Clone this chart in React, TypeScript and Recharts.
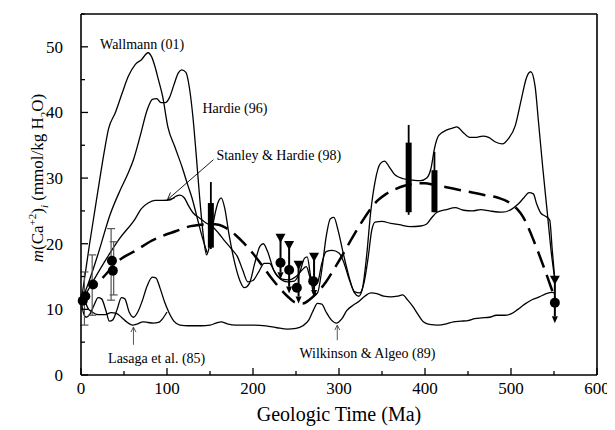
import React from 'react';
import {
  ComposedChart,
  Line,
  XAxis,
  YAxis,
  Scatter,
  ReferenceLine,
  ReferenceDot,
} from 'recharts';

// Seawater Ca concentration through the Phanerozoic: model curves + fluid inclusion data

const SERIF = 'Liberation Serif, Times New Roman, serif';

const xTicks = [0, 50, 100, 150, 200, 250, 300, 350, 400, 450, 500, 550, 600];
const yTicks = [0, 5, 10, 15, 20, 25, 30, 35, 40, 45, 50, 55];

// [age Ma, Ca mmol/kg]
const wallmann: [number, number][] = [
  [0, 11], [5, 15.5], [10, 20], [16, 25], [22, 30], [27, 34], [32, 37.5], [40, 40],
  [48, 43], [55, 45.5], [63, 47.3], [70, 48], [78, 49.1], [82, 48.5], [86, 47],
  [90, 45], [95, 42.4], [101, 37.8], [109, 34.8], [118, 31.5], [124, 29], [129, 27],
  [135, 24], [141, 21], [147, 18.5],
];

const hardie: [number, number][] = [
  [0, 11], [10, 14.5], [20, 18.5], [34, 24.5], [45, 28], [55, 30.8], [61, 32.8],
  [69, 36.5], [77, 40.4], [83, 42], [88, 42.1], [93, 41.5], [98, 41.5], [103, 42.3],
  [108, 44.2], [113, 46], [117, 46.5], [122, 46.1], [126, 43.8], [130, 39.5],
  [134, 33.5], [138, 27], [142, 21.5], [146, 18.3], [150, 20], [155, 24], [160, 26.5],
  [163, 27], [167, 25.5], [172, 21.5], [178, 17.5], [185, 14.3], [190, 13.3], [196, 14],
  [202, 17], [208, 19.6], [212, 20], [217, 18.8], [224, 16], [232, 14.6], [240, 14.2],
  [248, 14.3], [254, 15.5], [260, 17.8], [263, 18], [267, 15], [271, 12.2], [275, 12.5],
  [280, 16], [285, 21], [290, 23.8], [294, 24], [299, 22], [305, 18.5], [312, 14.8],
  [318, 12.5], [323, 12], [327, 13], [332, 18], [337, 25], [342, 29.5], [348, 32.2],
  [353, 32.6], [358, 31.8], [365, 30.5], [375, 29.9], [385, 29.7], [395, 29.6],
  [402, 30], [407, 31.5], [411, 34.5], [416, 36.5], [425, 37.3], [432, 37.6],
  [437, 37.8], [444, 37], [452, 36.2], [460, 36.2], [467, 36.4], [474, 36.2],
  [482, 35.5], [490, 35.2], [497, 36], [505, 38], [512, 42], [518, 45.3], [523, 46.2],
  [528, 44], [532, 38.5], [537, 31.5], [542, 25], [547, 18.5], [551, 14.5],
];

const stanleyHardie: [number, number][] = [
  [0, 11], [15, 14.5], [30, 17.8], [45, 20.8], [63, 23.8], [70, 25.3], [78, 26.2],
  [86, 26.6], [95, 26.6], [104, 26.7], [110, 27.2], [115, 27.4], [120, 27],
  [125, 25.8], [131, 24.6], [137, 24], [145, 23.2], [153, 22.6], [160, 21.6],
  [166, 20.6], [175, 19.2], [182, 18], [188, 16], [194, 14.2], [200, 14.4],
  [207, 15.8], [213, 17], [219, 17], [226, 15.5], [234, 14.6], [242, 14.5], [250, 15],
  [257, 16], [262, 16.5], [266, 15], [270, 13.5], [275, 14], [280, 17], [285, 18.8],
  [292, 19], [300, 18.6], [306, 17], [312, 14.5], [318, 12.7], [324, 12.5], [329, 14],
  [334, 18], [338, 22], [342, 23.3], [350, 23.4], [360, 23.1], [370, 22.9],
  [383, 22.6], [395, 22.7], [402, 23], [408, 24], [414, 24.8], [425, 25.2],
  [435, 25.5], [445, 25.1], [455, 25], [465, 25.2], [475, 25], [490, 24.8],
  [500, 25.2], [508, 26], [515, 27], [521, 27.8], [526, 27.6], [530, 26],
  [535, 24.6], [540, 24.2], [545, 23.6], [548, 19], [551, 14.5],
];

const lasaga: [number, number][] = [
  [0, 12], [4, 11.4], [8, 10.2], [13, 9.6], [20, 9.2], [28, 9.2], [35, 9.5], [41, 9.4],
  [47, 8.8], [54, 8], [60, 7.6], [66, 7.8], [72, 8.1], [78, 8], [84, 7.9], [90, 8],
  [95, 8.6], [100, 9.6],
];

const wilkinsonAlgeo: [number, number][] = [
  [0, 11.4], [3, 9.4], [6, 8.8], [10, 9.2], [15, 10.6], [20, 11.8], [24, 11.6],
  [29, 9.8], [33, 8.2], [37, 8.4], [42, 10], [47, 11.8], [51, 11.6], [56, 9.6],
  [61, 8.8], [66, 9.6], [71, 11.2], [77, 13.6], [83, 14.9], [87, 14.8], [92, 13.2],
  [97, 11.2], [102, 9.6], [108, 8.2], [115, 7.6], [125, 7.5], [140, 7.5], [150, 7.6],
  [157, 7.9], [163, 8.1], [170, 7.8], [180, 7.6], [200, 7.6], [215, 7.5], [228, 7.2],
  [240, 7], [250, 7.1], [258, 7.5], [265, 8.4], [270, 9.8], [275, 10.9], [280, 10.8],
  [285, 9.6], [291, 8.4], [297, 7.9], [303, 8.5], [309, 9.8], [316, 10.6], [323, 11.2],
  [330, 12], [337, 12.5], [344, 12.4], [352, 12], [360, 11.9], [368, 12], [374, 12.2],
  [380, 11.4], [386, 10.4], [392, 9.2], [398, 8.1], [405, 7.7], [415, 7.6], [425, 7.8],
  [433, 8.1], [442, 8.2], [450, 8.3], [458, 8.6], [466, 8.7], [475, 8.8], [483, 9.1],
  [492, 9.1], [500, 9.3], [508, 10], [516, 10.8], [525, 11.5], [533, 11.9],
  [541, 12.4], [548, 12.6], [551, 12.4],
];

// this study (dashed)
const model: [number, number][] = [
  [25, 14.8], [30, 15.5], [40, 17], [50, 18], [63, 18.9], [80, 20.3], [95, 21.2],
  [110, 21.9], [125, 22.6], [140, 22.9], [150, 23], [160, 22.9], [170, 22.3],
  [180, 21.3], [190, 20], [200, 18.5], [210, 16.8], [220, 15], [230, 13.4], [240, 12],
  [250, 11], [258, 10.9], [266, 11.5], [275, 12.6], [285, 14.2], [295, 16.3],
  [305, 18.5], [315, 20.8], [325, 23], [335, 25], [345, 26.6], [355, 27.6],
  [365, 28.3], [378, 28.9], [390, 29.2], [400, 29.2], [410, 29], [425, 28.6],
  [440, 28.2], [455, 27.8], [470, 27.4], [485, 27], [499, 26.2], [507, 25.3],
  [514, 24.1], [520, 22.5], [526, 20.6], [532, 18.6], [538, 16.5], [544, 14.3],
  [548, 12.8], [551, 11.5],
];

// fluid inclusion data
const dots: [number, number][] = [
  [2, 11.3], [5, 12], [14, 13.8], [36, 17.4], [37, 15.9], [232, 17.1], [242, 16],
  [251, 13.3], [270, 14.3], [551, 11],
];
// [age, triangle (max), arrow tip]
const maxima: [number, number, number][] = [
  [232, 20.9, 14.6], [242, 19.8, 12.4], [253, 16.8, 10.9], [271, 18, 11.9], [551, 14.5, 7.9],
];
// [age, low, high]
const errorBars: [number, number, number][] = [
  [4, 7.6, 15.7], [13, 9.1, 18.3], [35, 11.4, 22.3], [38, 12.2, 20.3],
];
// [age, thin low, thin high, thick low, thick high]
const haliteBars: [number, number, number, number, number][] = [
  [151, 19.2, 29.4, 19.4, 26.2], [381, 24.4, 38.1, 24.8, 35.4], [411, 24.8, 34, 24.8, 31.2],
];

const toPts = (arr: [number, number][]) => arr.map(([x, y]) => ({ x, y }));

function arrowShape(head: 'open' | 'filled', len: number, half: number, color: string, width: number) {
  return (p: any) => {
    const { x1, y1, x2, y2 } = p;
    const a = Math.atan2(y2 - y1, x2 - x1);
    const bx = x2 - len * Math.cos(a);
    const by = y2 - len * Math.sin(a);
    const nx = -Math.sin(a) * half;
    const ny = Math.cos(a) * half;
    return (
      <g>
        <line x1={x1} y1={y1} x2={head === 'filled' ? bx : x2} y2={head === 'filled' ? by : y2} stroke={color} strokeWidth={width} />
        {head === 'filled' ? (
          <polygon points={`${x2},${y2} ${bx + nx},${by + ny} ${bx - nx},${by - ny}`} fill={color} />
        ) : (
          <polyline points={`${bx + nx},${by + ny} ${x2},${y2} ${bx - nx},${by - ny}`} fill="none" stroke={color} strokeWidth={width} />
        )}
      </g>
    );
  };
}

const capShape = (p: any) => {
  const { x1, y1, x2, y2 } = p;
  return (
    <g stroke="#555" strokeWidth={1.2}>
      <line x1={x1} y1={y1} x2={x2} y2={y2} />
      <line x1={x1 - 4} x2={x1 + 4} y1={y1} y2={y1} />
      <line x1={x2 - 4} x2={x2 + 4} y1={y2} y2={y2} />
    </g>
  );
};

const textStyle = { fontFamily: SERIF };

const BottomTick = (p: any) => {
  const major = p.payload.value % 100 === 0;
  return (
    <g>
      <line x1={p.x} x2={p.x} y1={p.y} y2={p.y - (major ? 7 : 4)} stroke="#000" strokeWidth={1.3} />
      {major && (
        <text x={p.x} y={p.y + 19} textAnchor="middle" fontSize={17} style={textStyle} fill="#000">
          {p.payload.value}
        </text>
      )}
    </g>
  );
};

const TopTick = (p: any) => {
  const major = p.payload.value % 100 === 0;
  return <line x1={p.x} x2={p.x} y1={p.y} y2={p.y + (major ? 7 : 4)} stroke="#000" strokeWidth={1.3} />;
};

const LeftTick = (p: any) => {
  const major = p.payload.value % 10 === 0;
  return (
    <g>
      <line x1={p.x} x2={p.x + (major ? 7 : 4)} y1={p.y} y2={p.y} stroke="#000" strokeWidth={1.3} />
      {major && (
        <text x={p.x - 18} y={p.y + 6} textAnchor="end" fontSize={17} style={textStyle} fill="#000">
          {p.payload.value}
        </text>
      )}
    </g>
  );
};

const RightTick = (p: any) => {
  const major = p.payload.value % 10 === 0;
  return <line x1={p.x} x2={p.x - (major ? 7 : 4)} y1={p.y} y2={p.y} stroke="#000" strokeWidth={1.3} />;
};

// y title centred on the left margin band
const YTitle = () => {
  const cx = 35;
  const cy = 170;
  return (
    <text x={cx} y={cy} transform={`rotate(-90, ${cx}, ${cy})`} textAnchor="middle" fontSize={17} style={textStyle} fill="#000">
      <tspan fontStyle="italic">m</tspan>
      <tspan>(Ca</tspan>
      <tspan dy={-7} fontSize={11}>+2</tspan>
      <tspan dy={7}>)</tspan>
      <tspan dy={5} fontSize={11} fontStyle="italic">i</tspan>
      <tspan dy={-5}> (mmol/kg H</tspan>
      <tspan dy={5} fontSize={11}>2</tspan>
      <tspan dy={-5}>O)</tspan>
    </text>
  );
};

const XTitle = () => (
  <text x={331} y={413} textAnchor="middle" fontSize={20} style={textStyle} fill="#000">
    Geologic Time (Ma)
  </text>
);

const notes: { x: number; y: number; text: string }[] = [
  { x: 71, y: 50.5, text: 'Wallmann (01)' },
  { x: 179, y: 40.7, text: 'Hardie (96)' },
  { x: 230, y: 33.5, text: 'Stanley & Hardie (98)' },
  { x: 88, y: 2.6, text: 'Lasaga et al. (85)' },
  { x: 333, y: 3.3, text: 'Wilkinson & Algeo (89)' },
];

const curveStyle = { stroke: '#000', strokeWidth: 1.3 };

export default function App() {
  return (
    <ComposedChart
      width={607}
      height={422}
      margin={{ top: 0, right: 0, bottom: 0, left: 0 }}
      style={{ fontFamily: SERIF }}
    >
      <XAxis
        xAxisId="b"
        type="number"
        dataKey="x"
        domain={[0, 600]}
        ticks={xTicks}
        interval={0}
        height={55}
        tickSize={0}
        tickMargin={0}
        tickLine={false}
        axisLine={{ stroke: '#000', strokeWidth: 1.6 }}
        tick={(p: any) => <BottomTick {...p} />}
        label={{ content: () => <XTitle /> }}
      />
      <XAxis
        xAxisId="t"
        orientation="top"
        type="number"
        domain={[0, 600]}
        ticks={xTicks}
        interval={0}
        height={6}
        tickSize={0}
        tickMargin={0}
        tickLine={false}
        axisLine={{ stroke: '#000', strokeWidth: 1.6 }}
        tick={(p: any) => <TopTick {...p} />}
      />
      <YAxis
        yAxisId="l"
        type="number"
        dataKey="y"
        domain={[0, 55]}
        ticks={yTicks}
        interval={0}
        width={73}
        tickSize={0}
        tickMargin={0}
        tickLine={false}
        axisLine={{ stroke: '#000', strokeWidth: 1.6 }}
        tick={(p: any) => <LeftTick {...p} />}
        label={{ content: () => <YTitle /> }}
      />
      <YAxis
        yAxisId="r"
        orientation="right"
        type="number"
        domain={[0, 55]}
        ticks={yTicks}
        interval={0}
        width={18}
        tickSize={0}
        tickMargin={0}
        tickLine={false}
        axisLine={{ stroke: '#000', strokeWidth: 1.6 }}
        tick={(p: any) => <RightTick {...p} />}
      />

      {[wallmann, hardie, stanleyHardie, lasaga, wilkinsonAlgeo].map((s, i) => (
        <Line
          key={i}
          xAxisId="b"
          yAxisId="l"
          data={toPts(s)}
          dataKey="y"
          type="monotone"
          {...curveStyle}
          dot={false}
          activeDot={false}
          isAnimationActive={false}
        />
      ))}
      <Line
        xAxisId="b"
        yAxisId="l"
        data={toPts(model)}
        dataKey="y"
        type="monotone"
        stroke="#000"
        strokeWidth={2.5}
        strokeDasharray="17 8"
        dot={false}
        activeDot={false}
        isAnimationActive={false}
      />

      {errorBars.map(([x, lo, hi], i) => (
        <ReferenceLine key={`e${i}`} xAxisId="b" yAxisId="l" segment={[{ x, y: lo }, { x, y: hi }]} shape={capShape} />
      ))}
      {haliteBars.map(([x, tl, th, kl, kh], i) => (
        <React.Fragment key={`h${i}`}>
          <ReferenceLine xAxisId="b" yAxisId="l" segment={[{ x, y: tl }, { x, y: th }]} stroke="#000" strokeWidth={1.8} />
          <ReferenceLine xAxisId="b" yAxisId="l" segment={[{ x, y: kl }, { x, y: kh }]} stroke="#000" strokeWidth={6} />
        </React.Fragment>
      ))}
      {maxima.map(([x, top, tip], i) => (
        <ReferenceLine
          key={`m${i}`}
          xAxisId="b"
          yAxisId="l"
          segment={[{ x, y: top }, { x, y: tip }]}
          shape={arrowShape('filled', 7, 3, '#000', 2)}
        />
      ))}

      <ReferenceLine xAxisId="b" yAxisId="l" segment={[{ x: 154, y: 32.8 }, { x: 100.5, y: 26.7 }]} shape={arrowShape('open', 7, 3.5, '#000', 0.9)} />
      <ReferenceLine xAxisId="b" yAxisId="l" segment={[{ x: 61, y: 4.6 }, { x: 61, y: 7.3 }]} shape={arrowShape('open', 5, 2.5, '#444', 0.9)} />
      <ReferenceLine xAxisId="b" yAxisId="l" segment={[{ x: 298, y: 5.3 }, { x: 298, y: 7.6 }]} shape={arrowShape('open', 5, 2.5, '#444', 0.9)} />

      <Scatter
        xAxisId="b"
        yAxisId="l"
        data={maxima.map(([x, y]) => ({ x, y }))}
        dataKey="y"
        isAnimationActive={false}
        shape={(p: any) => (
          <polygon points={`${p.cx - 5},${p.cy - 4} ${p.cx + 5},${p.cy - 4} ${p.cx},${p.cy + 5}`} fill="#000" />
        )}
      />
      <Scatter
        xAxisId="b"
        yAxisId="l"
        data={toPts(dots)}
        dataKey="y"
        isAnimationActive={false}
        shape={(p: any) => <circle cx={p.cx} cy={p.cy} r={5} fill="#000" />}
      />

      {notes.map((n, i) => (
        <ReferenceDot
          key={`n${i}`}
          xAxisId="b"
          yAxisId="l"
          x={n.x}
          y={n.y}
          r={0}
          fill="none"
          stroke="none"
          label={{ value: n.text, position: 'center', fontSize: 14, fontFamily: SERIF, fill: '#000' }}
        />
      ))}
    </ComposedChart>
  );
}
